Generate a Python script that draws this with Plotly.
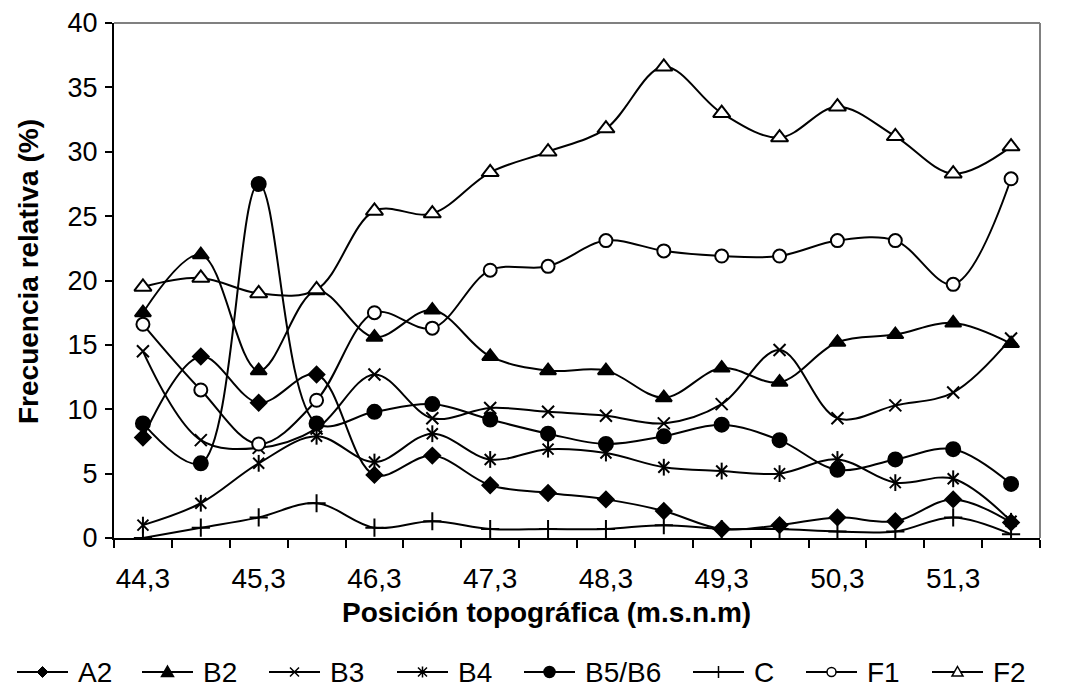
import plotly.graph_objects as go

categories = ["44,3", "44,8", "45,3", "45,8", "46,3", "46,8", "47,3", "47,8",
              "48,3", "48,8", "49,3", "49,8", "50,3", "50,8", "51,3", "51,8"]

A2 = [7.8, 14.1, 10.5, 12.7, 4.9, 6.4, 4.1, 3.5, 3.0, 2.1, 0.7, 1.0, 1.6, 1.3, 3.0, 1.2]
B2 = [17.5, 22.0, 13.0, 19.2, 15.6, 17.7, 14.1, 13.0, 13.0, 10.9, 13.2, 12.1, 15.2, 15.8, 16.7, 15.1]
B3 = [14.5, 7.6, 7.0, 8.5, 12.7, 9.3, 10.1, 9.8, 9.5, 8.9, 10.4, 14.6, 9.3, 10.3, 11.3, 15.5]
B4 = [1.0, 2.7, 5.8, 7.9, 5.9, 8.1, 6.1, 6.9, 6.6, 5.5, 5.2, 5.0, 6.1, 4.3, 4.6, 1.3]
B5B6 = [8.9, 5.8, 27.5, 8.9, 9.8, 10.4, 9.2, 8.1, 7.3, 7.9, 8.8, 7.6, 5.3, 6.1, 6.9, 4.2]
C = [0.0, 0.8, 1.6, 2.7, 0.8, 1.3, 0.7, 0.7, 0.7, 1.0, 0.7, 0.7, 0.5, 0.5, 1.6, 0.3]
F1 = [16.6, 11.5, 7.3, 10.7, 17.5, 16.3, 20.8, 21.1, 23.1, 22.3, 21.9, 21.9, 23.1, 23.1, 19.7, 27.9]
F2 = [19.5, 20.2, 19.0, 19.3, 25.4, 25.2, 28.4, 30.0, 31.8, 36.6, 33.0, 31.1, 33.5, 31.2, 28.3, 30.4]

series_names = ["A2", "B2", "B3", "B4", "B5/B6", "C", "F1", "F2"]
series_values = [A2, B2, B3, B4, B5B6, C, F1, F2]
# style: (plot symbol, size, fill, legend kind)
styles = {
    "A2": ("diamond", 12, "black", "diamond"),
    "B2": ("triangle-up", 14, "black", "tri"),
    "B3": ("x-thin", 12, "black", "x"),
    "B4": ("x-thin", 11, "black", "ast"),
    "B5/B6": ("circle", 14, "black", "circle"),
    "C": ("cross-thin", 13, "black", "plus"),
    "F1": ("circle", 13, "white", "ocircle"),
    "F2": ("triangle-up", 15, "white", "otri"),
}

x = list(range(len(categories)))
FONT = "Liberation Sans, Arial, sans-serif"

# figure geometry (page has an 8px body margin)
FW, FH = 1052, 679
ML, MR, MT, MB = 106, 20, 15, 149
PW = FW - ML - MR
PH = FH - MT - MB
OFF = 8


def px(X):  # reference-image x -> paper
    return (X - OFF - ML) / PW


def py(Y):  # reference-image y -> paper
    return (FH - MB - (Y - OFF)) / PH


fig = go.Figure()
for name, vals in zip(series_names, series_values):
    sym, size, fill, _ = styles[name]
    fig.add_trace(go.Scatter(
        x=x, y=vals, name=name, mode="lines+markers", showlegend=False,
        line=dict(color="black", width=2, shape="spline", smoothing=1.0),
        marker=dict(symbol=sym, size=size, color=fill,
                    line=dict(color="black", width=2)),
    ))
    if styles[name][3] == "ast":
        fig.add_trace(go.Scatter(
            x=x, y=vals, mode="markers", showlegend=False, hoverinfo="skip",
            marker=dict(symbol="line-ns", size=size + 1, line=dict(color="black", width=2)),
        ))

# ---- manual legend (lines 51px long, like the reference) ----
shapes = [
    dict(type="line", xref="paper", yref="paper", x0=0, x1=1, y0=1, y1=1,
         line=dict(color="#808080", width=2)),
    dict(type="line", xref="paper", yref="paper", x0=1, x1=1, y0=0, y1=1,
         line=dict(color="#808080", width=2)),
]
annotations = []
leg_starts = [17, 142, 269, 397, 524, 693, 806, 932]
LY = 672
LINE_LEN = 51


def path_from(pts, close=True):
    s = "M " + " L ".join(f"{px(a):.5f},{py(b):.5f}" for a, b in pts)
    return s + (" Z" if close else "")


for name, x0 in zip(series_names, leg_starts):
    cx = x0 + LINE_LEN / 2
    shapes.append(dict(type="line", xref="paper", yref="paper",
                       x0=px(x0), x1=px(x0 + LINE_LEN), y0=py(LY), y1=py(LY),
                       line=dict(color="black", width=2)))
    kind = styles[name][3]
    if kind == "diamond":
        r = 5.5
        shapes.append(dict(type="path", xref="paper", yref="paper",
                           path=path_from([(cx, LY - r), (cx + r, LY), (cx, LY + r), (cx - r, LY)]),
                           fillcolor="black", line=dict(color="black", width=1)))
    elif kind in ("tri", "otri"):
        r = 6 if kind == "tri" else 5.5
        fill = "black" if kind == "tri" else "white"
        shapes.append(dict(type="path", xref="paper", yref="paper",
                           path=path_from([(cx, LY - r), (cx + r, LY + r * 0.75), (cx - r, LY + r * 0.75)]),
                           fillcolor=fill, line=dict(color="black", width=1.5)))
    elif kind in ("circle", "ocircle"):
        r = 5.5 if kind == "circle" else 4.5
        fill = "black" if kind == "circle" else "white"
        shapes.append(dict(type="circle", xref="paper", yref="paper",
                           x0=px(cx - r), x1=px(cx + r), y0=py(LY + r), y1=py(LY - r),
                           fillcolor=fill, line=dict(color="black", width=1.5)))
    elif kind in ("x", "ast"):
        r = 4.5
        p = path_from([(cx - r, LY - r), (cx + r, LY + r)], close=False) + " " + \
            path_from([(cx - r, LY + r), (cx + r, LY - r)], close=False)
        if kind == "ast":
            p += " " + path_from([(cx, LY - r - 1), (cx, LY + r + 1)], close=False)
        shapes.append(dict(type="path", xref="paper", yref="paper", path=p,
                           line=dict(color="black", width=1.5)))
    elif kind == "plus":
        r = 6
        p = path_from([(cx, LY - r), (cx, LY + r)], close=False)
        shapes.append(dict(type="path", xref="paper", yref="paper", path=p,
                           line=dict(color="black", width=1.5)))
    annotations.append(dict(text=name, xref="paper", yref="paper",
                            x=px(x0 + LINE_LEN + 8), y=py(LY), xanchor="left", yanchor="middle",
                            showarrow=False, font=dict(size=28, family=FONT, color="black")))

# axis titles
annotations.append(dict(text="<b>Posición topográfica (m.s.n.m)</b>", xref="paper", yref="paper",
                        x=px(546), y=py(612), xanchor="center", yanchor="middle", showarrow=False,
                        font=dict(size=28, family=FONT, color="black")))
annotations.append(dict(text="<b>Frecuencia relativa (%)</b>", xref="paper", yref="paper",
                        x=px(28), y=py(272), xanchor="center", yanchor="middle", showarrow=False,
                        textangle=-90, font=dict(size=28, family=FONT, color="black")))

label_idx = x[::2]
fig.update_layout(
    width=FW, height=FH,
    paper_bgcolor="white", plot_bgcolor="white",
    margin=dict(l=ML, r=MR, t=MT, b=MB, autoexpand=False),
    font=dict(family=FONT, size=28, color="black"),
    showlegend=False,
    xaxis=dict(
        range=[-0.5, len(categories) - 0.5],
        tickmode="array", tickvals=label_idx, ticktext=[categories[i] for i in label_idx],
        ticks="", showgrid=False, zeroline=False, ticklabelstandoff=14,
        ticklabeloverflow="allow",
        showline=True, linecolor="black", linewidth=2,
        tickfont=dict(size=28),
        minor=dict(tickmode="linear", tick0=-0.5, dtick=1, ticks="outside",
                   ticklen=8, tickwidth=2, tickcolor="black", showgrid=False),
    ),
    yaxis=dict(
        range=[0, 40], dtick=5, tick0=0,
        ticks="outside", ticklen=7, tickwidth=2, tickcolor="black",
        showgrid=False, zeroline=False, ticklabelstandoff=2,
        ticklabeloverflow="allow",
        showline=True, linecolor="black", linewidth=2,
        tickfont=dict(size=27),
    ),
    shapes=shapes,
    annotations=annotations,
)

fig.write_html("out.html")
